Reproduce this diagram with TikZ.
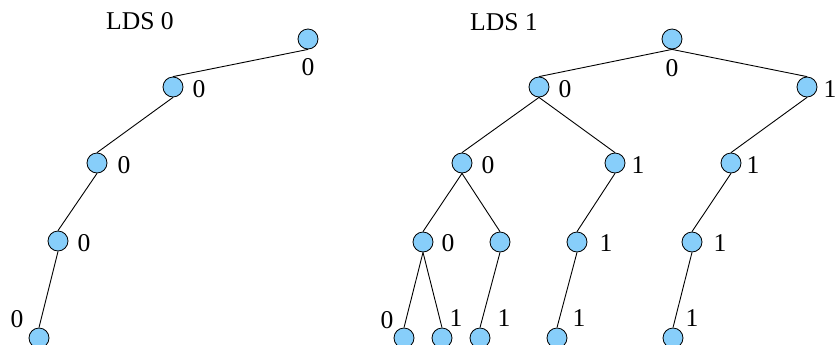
\documentclass[tikz,border=0pt]{standalone}
\usepackage{fontspec}
\setmainfont{Liberation Serif}
\usepackage{xcolor}
\usepackage{tikz}
\usetikzlibrary{positioning}
\definecolor{nodeblue}{HTML}{87CEFA}

\begin{document}
\begin{tikzpicture}[x=0.5pt, y=-0.5pt,
    vertex/.style={circle, draw=black, fill=nodeblue, minimum size=10pt, inner sep=0pt},
    lbl/.style={font=\fontsize{12.8}{15}\selectfont, inner sep=0pt},
    title/.style={font=\fontsize{12.8}{15}\selectfont, inner sep=0pt},
    edge/.style={draw=black, line width=0.45pt}]

    \useasboundingbox (0,0) rectangle (837,344);

    % LDS 0
    \node[title] (t0) at (140,21) {LDS 0};
    \node[vertex] (r0) at (308,39) {};
    \node[vertex] (p1) at (173,87) {};
    \node[vertex] (p2) at (97,163) {};
    \node[vertex] (p3) at (58,241) {};
    \node[vertex] (p4) at (39,338) {};

    \node[lbl] (lr0) at (308,67) {0};
    \node[lbl] (lp1) at (199,89) {0};
    \node[lbl] (lp2) at (124,165) {0};
    \node[lbl] (lp3) at (84,243) {0};
    \node[lbl] (lp4) at (17,319) {0};

    \draw[edge] (r0.south) -- (p1.north);
    \draw[edge] (p1.south) -- (p2.north);
    \draw[edge] (p2.south) -- (p3.north);
    \draw[edge] (p3.south) -- (p4.north);

    % LDS 1
    \node[title] (t1) at (504,22) {LDS 1};
    \node[vertex] (r1) at (672,39) {};
    \node[vertex] (a) at (539,87) {};
    \node[vertex] (b) at (807,87) {};
    \node[vertex] (a0) at (462,163) {};
    \node[vertex] (a1) at (615,163) {};
    \node[vertex] (b1) at (731,163) {};
    \node[vertex] (a00) at (423,242) {};
    \node[vertex] (a01) at (500,242) {};
    \node[vertex] (a11) at (577,242) {};
    \node[vertex] (b11) at (692,242) {};
    \node[vertex] (a000) at (404,338) {};
    \node[vertex] (a001) at (442,338) {};
    \node[vertex] (a011) at (480,338) {};
    \node[vertex] (a111) at (557,338) {};
    \node[vertex] (b111) at (673,338) {};

    \node[lbl] (lr1) at (672,68) {0};
    \node[lbl] (la) at (565,89) {0};
    \node[lbl] (lb) at (830,89) {1};
    \node[lbl] (la0) at (488,165) {0};
    \node[lbl] (la1) at (638,165) {1};
    \node[lbl] (lb1) at (753,165) {1};
    \node[lbl] (la00) at (448,243) {0};
    \node[lbl] (la11) at (606,243) {1};
    \node[lbl] (lb11) at (720,243) {1};
    \node[lbl] (la000) at (387,320) {0};
    \node[lbl] (la001) at (456,318) {1};
    \node[lbl] (la011) at (504,318) {1};
    \node[lbl] (la111) at (579,318) {1};
    \node[lbl] (lb111) at (692,318) {1};

    \draw[edge] (r1.south) -- (a.north);
    \draw[edge] (r1.south) -- (b.north);
    \draw[edge] (a.south) -- (a0.north);
    \draw[edge] (a.south) -- (a1.north);
    \draw[edge] (b.south) -- (b1.north);
    \draw[edge] (a0.south) -- (a00.north);
    \draw[edge] (a0.south) -- (a01.north);
    \draw[edge] (a1.south) -- (a11.north);
    \draw[edge] (b1.south) -- (b11.north);
    \draw[edge] (a00.south) -- (a000.north);
    \draw[edge] (a00.south) -- (a001.north);
    \draw[edge] (a01.south) -- (a011.north);
    \draw[edge] (a11.south) -- (a111.north);
    \draw[edge] (b11.south) -- (b111.north);

\end{tikzpicture}
\end{document}
